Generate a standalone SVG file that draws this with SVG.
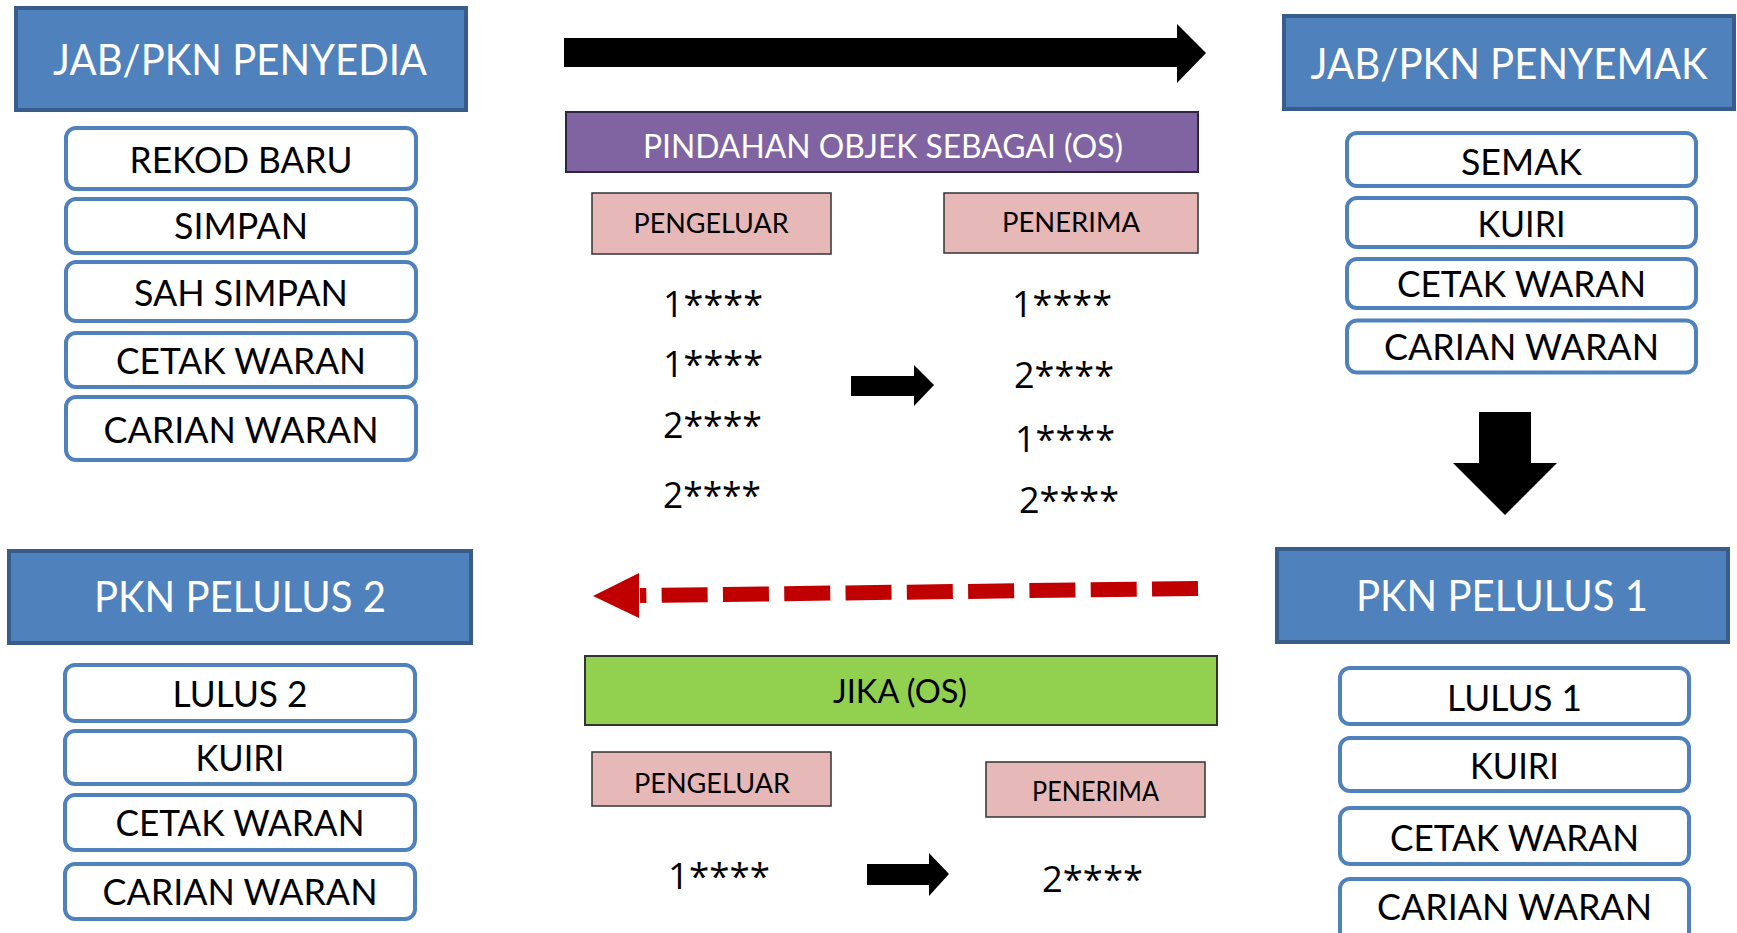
<svg xmlns="http://www.w3.org/2000/svg" width="1737" height="933" viewBox="0 0 1737 933">
<style>
text{font-family:"Lato","Open Sans","Liberation Sans",sans-serif;}
.hdr{fill:#4F81BD;stroke:#385D8A;stroke-width:4;}
.hdrt{fill:#FFFFFF;font-size:42px;text-anchor:middle;}
.sub{fill:#FFFFFF;stroke:#4F81BD;stroke-width:4;}
.subt{fill:#000000;font-size:36px;text-anchor:middle;}
.pink{fill:#E6B9B8;stroke:#333333;stroke-width:1.5;}
.pinkt{fill:#000000;font-size:27px;text-anchor:middle;}
.num{fill:#000000;font-size:36px;font-family:"Open Sans","Lato",sans-serif;}
.blk{fill:#000000;}
</style>
<rect width="1737" height="933" fill="#FFFFFF"/>

<g id="penyedia">
<rect class="hdr" x="16" y="8" width="450" height="102"/>
<text class="hdrt" x="240" y="75" textLength="374" lengthAdjust="spacingAndGlyphs">JAB/PKN PENYEDIA</text>
</g>
<g id="penyedia-rekod"><rect class="sub" x="66" y="128" width="350" height="61" rx="10"/><text class="subt" x="241" y="173" textLength="223" lengthAdjust="spacingAndGlyphs">REKOD BARU</text></g>
<g id="penyedia-simpan"><rect class="sub" x="66" y="199" width="350" height="54" rx="10"/><text class="subt" x="241" y="239" textLength="134" lengthAdjust="spacingAndGlyphs">SIMPAN</text></g>
<g id="penyedia-sah"><rect class="sub" x="66" y="262" width="350" height="59" rx="10"/><text class="subt" x="241" y="306" textLength="214" lengthAdjust="spacingAndGlyphs">SAH SIMPAN</text></g>
<g id="penyedia-cetak"><rect class="sub" x="66" y="333" width="350" height="54" rx="10"/><text class="subt" x="241" y="374" textLength="250" lengthAdjust="spacingAndGlyphs">CETAK WARAN</text></g>
<g id="penyedia-carian"><rect class="sub" x="66" y="397" width="350" height="63" rx="10"/><text class="subt" x="241" y="443" textLength="275" lengthAdjust="spacingAndGlyphs">CARIAN WARAN</text></g>

<g id="penyemak">
<rect class="hdr" x="1284" y="16" width="450" height="93"/>
<text class="hdrt" x="1509" y="79" textLength="397" lengthAdjust="spacingAndGlyphs">JAB/PKN PENYEMAK</text>
</g>
<g id="penyemak-semak"><rect class="sub" x="1347" y="133" width="349" height="53" rx="10"/><text class="subt" x="1521.5" y="175" textLength="121" lengthAdjust="spacingAndGlyphs">SEMAK</text></g>
<g id="penyemak-kuiri"><rect class="sub" x="1347" y="198" width="349" height="49" rx="10"/><text class="subt" x="1521.5" y="237" textLength="88" lengthAdjust="spacingAndGlyphs">KUIRI</text></g>
<g id="penyemak-cetak"><rect class="sub" x="1347" y="259" width="349" height="49" rx="10"/><text class="subt" x="1521.5" y="297" textLength="249" lengthAdjust="spacingAndGlyphs">CETAK WARAN</text></g>
<g id="penyemak-carian"><rect class="sub" x="1347" y="320.5" width="349" height="52" rx="10"/><text class="subt" x="1521.5" y="360" textLength="275" lengthAdjust="spacingAndGlyphs">CARIAN WARAN</text></g>

<g id="pelulus2">
<rect class="hdr" x="9" y="551" width="462" height="92"/>
<text class="hdrt" x="240" y="612" textLength="292" lengthAdjust="spacingAndGlyphs">PKN PELULUS 2</text>
</g>
<g id="pelulus2-lulus"><rect class="sub" x="65" y="665" width="350" height="56" rx="10"/><text class="subt" x="240" y="707" textLength="135" lengthAdjust="spacingAndGlyphs">LULUS 2</text></g>
<g id="pelulus2-kuiri"><rect class="sub" x="65" y="731" width="350" height="53" rx="10"/><text class="subt" x="240" y="771" textLength="89" lengthAdjust="spacingAndGlyphs">KUIRI</text></g>
<g id="pelulus2-cetak"><rect class="sub" x="65" y="795" width="350" height="55" rx="10"/><text class="subt" x="240" y="836" textLength="249" lengthAdjust="spacingAndGlyphs">CETAK WARAN</text></g>
<g id="pelulus2-carian"><rect class="sub" x="65" y="864" width="350" height="55" rx="10"/><text class="subt" x="240" y="905" textLength="275" lengthAdjust="spacingAndGlyphs">CARIAN WARAN</text></g>

<g id="pelulus1">
<rect class="hdr" x="1277" y="549" width="451" height="93"/>
<text class="hdrt" x="1502" y="611" textLength="292" lengthAdjust="spacingAndGlyphs">PKN PELULUS 1</text>
</g>
<g id="pelulus1-lulus"><rect class="sub" x="1340" y="668" width="349" height="56" rx="10"/><text class="subt" x="1514.5" y="711" textLength="135" lengthAdjust="spacingAndGlyphs">LULUS 1</text></g>
<g id="pelulus1-kuiri"><rect class="sub" x="1340" y="738" width="349" height="53" rx="10"/><text class="subt" x="1514.5" y="779" textLength="89" lengthAdjust="spacingAndGlyphs">KUIRI</text></g>
<g id="pelulus1-cetak"><rect class="sub" x="1340" y="808" width="349" height="56" rx="10"/><text class="subt" x="1514.5" y="851" textLength="249" lengthAdjust="spacingAndGlyphs">CETAK WARAN</text></g>
<g id="pelulus1-carian"><rect class="sub" x="1340" y="879" width="349" height="70" rx="10"/><text class="subt" x="1514.5" y="920" textLength="275" lengthAdjust="spacingAndGlyphs">CARIAN WARAN</text></g>

<g id="pindahan">
<rect x="566" y="112" width="632" height="60" fill="#8064A2" stroke="#2E2640" stroke-width="2"/>
<text x="883" y="158" fill="#FFFFFF" font-size="32" text-anchor="middle" textLength="480" lengthAdjust="spacingAndGlyphs">PINDAHAN OBJEK SEBAGAI (OS)</text>
</g>
<g id="pengeluar1"><rect class="pink" x="592" y="193" width="239" height="61"/><text class="pinkt" x="711" y="233" textLength="155" lengthAdjust="spacingAndGlyphs">PENGELUAR</text></g>
<g id="penerima1"><rect class="pink" x="944" y="193" width="254" height="60"/><text class="pinkt" x="1071" y="232" textLength="138" lengthAdjust="spacingAndGlyphs">PENERIMA</text></g>

<g id="nums1">
<text class="num" x="663" y="317" textLength="100" lengthAdjust="spacingAndGlyphs">1****</text>
<text class="num" x="663" y="377" textLength="100" lengthAdjust="spacingAndGlyphs">1****</text>
<text class="num" x="663" y="438" textLength="99" lengthAdjust="spacingAndGlyphs">2****</text>
<text class="num" x="663" y="508" textLength="98" lengthAdjust="spacingAndGlyphs">2****</text>
<text class="num" x="1012" y="317" textLength="100" lengthAdjust="spacingAndGlyphs">1****</text>
<text class="num" x="1014" y="388" textLength="100" lengthAdjust="spacingAndGlyphs">2****</text>
<text class="num" x="1015" y="452" textLength="100" lengthAdjust="spacingAndGlyphs">1****</text>
<text class="num" x="1019" y="513" textLength="100" lengthAdjust="spacingAndGlyphs">2****</text>
</g>

<g id="jika">
<rect x="585" y="656" width="632" height="69" fill="#92D050" stroke="#333333" stroke-width="2"/>
<text x="900" y="703" fill="#000000" font-size="32" text-anchor="middle" textLength="134" lengthAdjust="spacingAndGlyphs">JIKA (OS)</text>
</g>
<g id="pengeluar2"><rect class="pink" x="592" y="752" width="239" height="54"/><text class="pinkt" x="712" y="793" textLength="156" lengthAdjust="spacingAndGlyphs">PENGELUAR</text></g>
<g id="penerima2"><rect class="pink" x="986" y="762" width="219" height="55"/><text class="pinkt" x="1095.5" y="801" font-size="25" textLength="127" lengthAdjust="spacingAndGlyphs">PENERIMA</text></g>

<g id="nums2">
<text class="num" x="668" y="889" textLength="102" lengthAdjust="spacingAndGlyphs">1****</text>
<text class="num" x="1042" y="892" textLength="101" lengthAdjust="spacingAndGlyphs">2****</text>
</g>

<g id="connectors">
<polygon class="blk" points="564,38 1177,38 1177,24 1206,53 1177,83 1177,67 564,67"/>
<polygon class="blk" points="851,376 914,376 914,365 934,385 914,406 914,396 851,396"/>
<polygon class="blk" points="867,864 929,864 929,853 949,874 929,896 929,885 867,885"/>
<polygon class="blk" points="1479,412 1531,412 1531,463 1557,463 1505,515 1453,463 1479,463"/>
<line x1="1198" y1="588.5" x2="640" y2="595.5" stroke="#C00000" stroke-width="15" stroke-dasharray="46 15.3"/>
<polygon fill="#C00000" points="593,596 639,573 639,618"/>
</g>
</svg>
